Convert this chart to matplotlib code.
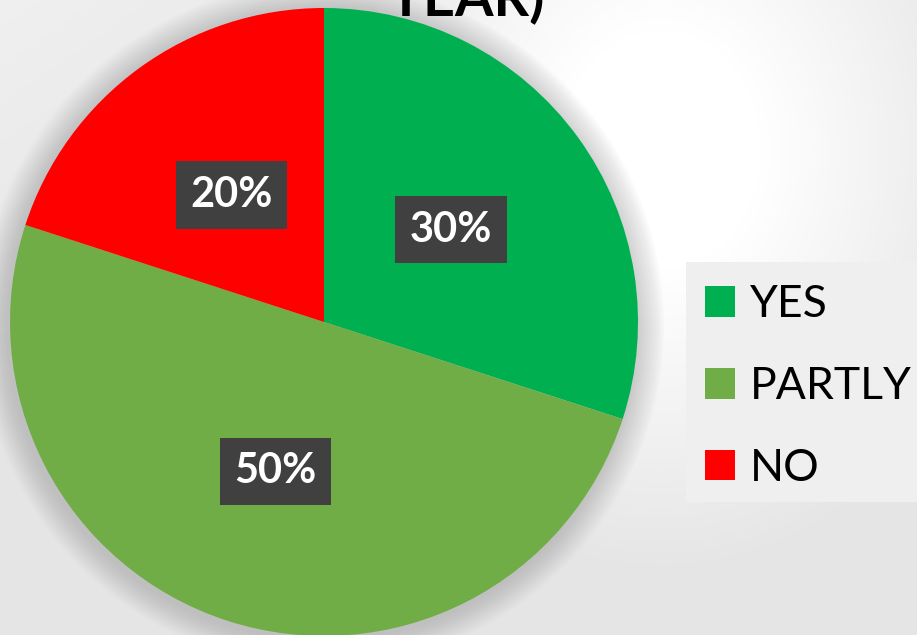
import matplotlib.pyplot as plt
import numpy as np

labels = ["YES", "PARTLY", "NO"]
shares = [30, 50, 20]
colors = ["#00B050", "#70AD47", "#FF0000"]
title = "YEAR)"

W, H = 917, 635
fig = plt.figure(figsize=(W / 100, H / 100), dpi=100)

# background: light diagonal gradient with a white glow up right of the pie
bg = fig.add_axes([0, 0, 1, 1])
yy, xx = np.mgrid[0:H, 0:W]
t = (xx / W + yy / H) / 2
g_lin = 0.94 - 0.13 * t
d = np.sqrt((xx - 660) ** 2 + ((yy - 150) / 1.2) ** 2)
g_blob = 1.0 - 0.1 * np.clip((d - 100) / 250, 0, 1)
g = np.maximum(g_lin, g_blob)
bg.imshow(np.dstack([g, g, g]), extent=[0, W, H, 0], aspect="auto")
bg.set_xlim(0, W)
bg.set_ylim(H, 0)
bg.axis("off")

# soft shadow around the pie
for k in range(14):
    r = 314 + 2 + k * 2
    bg.add_patch(plt.Circle((322, 325), r, color="#7f7f7f", alpha=0.028, lw=0))

# legend box
bg.add_patch(plt.Rectangle((686, 262), 240, 240, color="#efefef", lw=0))

# title, clipped at top of the picture
bg.text(466, 16, title, ha="center", va="baseline", fontsize=40, fontweight="bold",
        family="Lato", color="black")

ax = fig.add_axes([10 / W, (H - 322 - 314) / H, 628 / W, 628 / H])
wedges, _, autotexts = ax.pie(
    shares, colors=colors, startangle=90, counterclock=False, radius=1,
    autopct="%d%%", pctdistance=0.5,
    wedgeprops=dict(linewidth=0),
    textprops=dict(color="white", fontsize=30, fontweight="bold", family="Lato"),
)
for t in autotexts:
    t.set_bbox(dict(boxstyle="square,pad=0.35", facecolor="#404040", edgecolor="none"))
ax.set_xlim(-1, 1)
ax.set_ylim(-1, 1)
ax.set_aspect("auto")
ax.axis("off")

leg = fig.legend(wedges, labels, loc="upper left",
                 bbox_to_anchor=(705 / W, 1 - 284 / H),
                 frameon=False, borderpad=0, borderaxespad=0,
                 prop=dict(family="Lato", size=32),
                 handlelength=0.68, handleheight=0.68, handletextpad=0.33,
                 labelspacing=0.92)
for t in leg.get_texts():
    t.set_color("black")

fig.savefig("out.png", dpi=100)
